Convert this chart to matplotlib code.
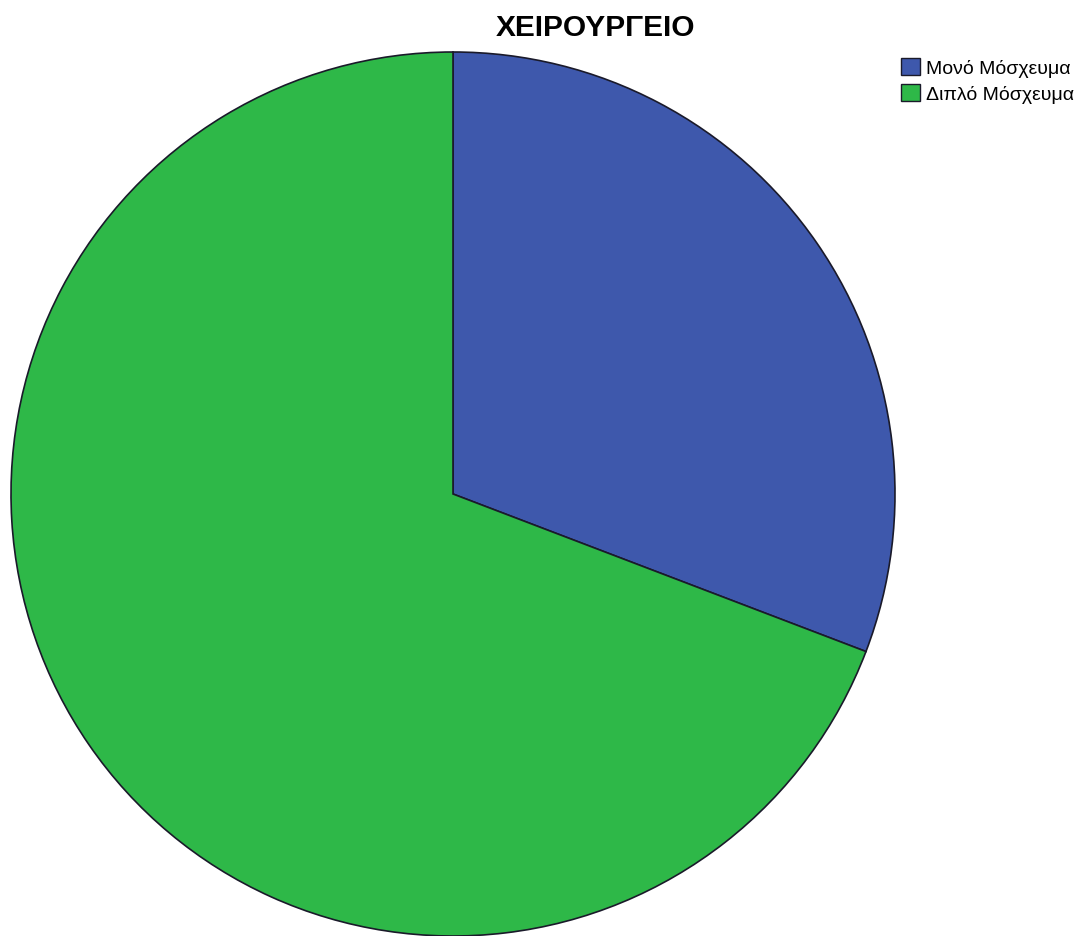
import matplotlib.pyplot as plt
from matplotlib.patches import Patch

labels = ['Μονό Μόσχευμα', 'Διπλό Μόσχευμα']
values = [30.8, 69.2]
colors = ['#3E58AC', '#2EB848']

W, H = 1089, 937
cx, cy, r = 453, 495, 442

fig = plt.figure(figsize=(W / 100, H / 100), dpi=100)
ax = fig.add_axes([0, 0, 1, 1])
ax.pie(values, colors=colors, startangle=90, counterclock=False, radius=1,
       wedgeprops=dict(edgecolor='#1a1a2a', linewidth=1.2))
# pixel-based limits so the pie sits where it should
ax.set_xlim(-cx / r, (W - cx) / r)
ax.set_ylim((cy - H) / r, cy / r)
ax.set_aspect('auto')
ax.axis('off')

fig.text(595 / W, 1 - 28 / H, 'ΧΕΙΡΟΥΡΓΕΙΟ', ha='center', va='center',
         fontsize=21.5, fontweight='bold', family='Liberation Sans')

handles = [Patch(facecolor=c, edgecolor='#1a1a2a', linewidth=1) for c in colors]
fig.legend(handles, labels, loc='upper left', bbox_to_anchor=(887 / W, 1 - 45 / H),
           frameon=False, prop=dict(family='Liberation Sans', size=14),
           handlelength=1.0, handleheight=1.0, handletextpad=0.3,
           labelspacing=0.35, borderpad=0.2)

fig.savefig('out.png', dpi=100)
